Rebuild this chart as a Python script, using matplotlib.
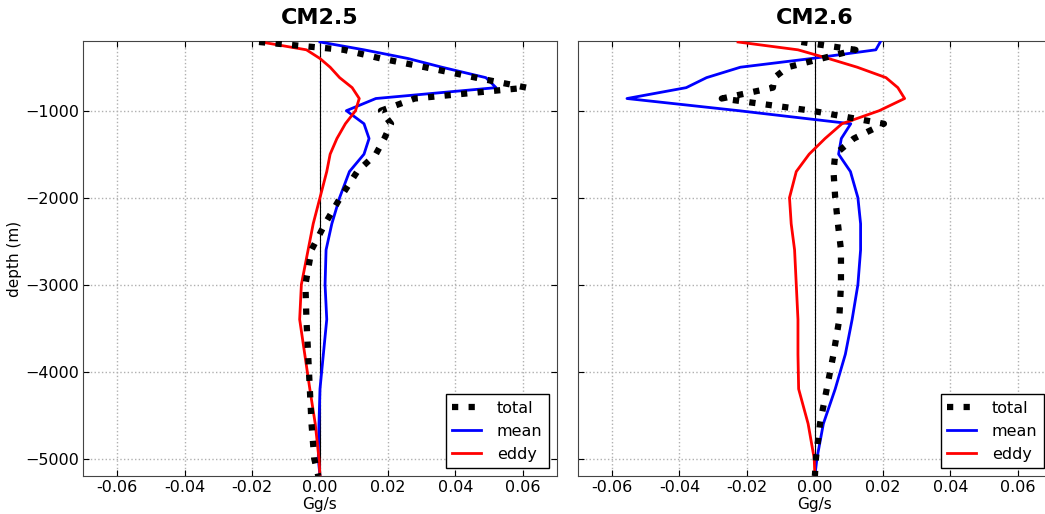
import numpy as np
import matplotlib
matplotlib.use('Agg')
from matplotlib import pyplot as plt

# depth levels (m), shared by every profile
depth = [-210, -300, -400, -500, -620, -735, -860, -1000, -1150, -1320, -1500,
         -1700, -2000, -2300, -2600, -3000, -3400, -3800, -4200, -4600, -5000, -5200]

# CM2.5 transports (Gg/s)
cm25_total = [-0.018, 0.007, 0.018, 0.031, 0.046, 0.061, 0.028, 0.018, 0.021, 0.019, 0.0165,
              0.011, 0.006, 0.0015, -0.0025, -0.0043, -0.004, -0.0035, -0.003, -0.0025, -0.0017, -0.0005]
cm25_mean = [0.0, 0.013, 0.026, 0.036, 0.049, 0.052, 0.0165, 0.0078, 0.013, 0.0145, 0.013,
             0.0087, 0.0058, 0.0035, 0.0018, 0.0015, 0.002, 0.001, 0.0, -0.0003, -0.0005, 0.0]
cm25_eddy = [-0.0174, -0.004, 0.0, 0.003, 0.0058, 0.0095, 0.0116, 0.0105, 0.0075, 0.005, 0.003,
             0.002, 0.0, -0.002, -0.0035, -0.0055, -0.006, -0.0045, -0.003, -0.0014, -0.0003, 0.0]

# CM2.6 transports (Gg/s)
cm26_total = [-0.004, 0.012, 0.002, -0.008, -0.012, -0.0124, -0.0275, -0.001, 0.0204, 0.0115, 0.006,
              0.0055, 0.006, 0.0068, 0.0077, 0.0077, 0.0072, 0.0055, 0.0035, 0.0015, 0.0003, 0.0]
cm26_mean = [0.0193, 0.018, -0.001, -0.022, -0.032, -0.038, -0.0555, -0.0225, 0.0106, 0.0078, 0.007,
             0.0105, 0.0127, 0.0135, 0.0135, 0.0127, 0.011, 0.009, 0.006, 0.0025, 0.0006, 0.0]
cm26_eddy = [-0.0227, -0.005, 0.004, 0.0125, 0.021, 0.0245, 0.0265, 0.019, 0.008, 0.003, -0.0017,
             -0.0055, -0.0075, -0.007, -0.006, -0.0055, -0.005, -0.005, -0.0048, -0.002, -0.0002, 0.0]

titles = ['CM2.5', 'CM2.6']
xticks = [-0.06, -0.04, -0.02, 0.0, 0.02, 0.04, 0.06]
yticks = [-5000, -4000, -3000, -2000, -1000]

fig = plt.figure(figsize=(10.45, 5.14), dpi=100)
ax1 = fig.add_axes([0.0794, 0.074, 0.4536, 0.846])
ax2 = fig.add_axes([0.553, 0.074, 0.4536, 0.846])

panels = [(ax1, cm25_total, cm25_mean, cm25_eddy),
          (ax2, cm26_total, cm26_mean, cm26_eddy)]

for i, (ax, tot, mn, ed) in enumerate(panels):
    ax.set_axisbelow(True)
    ax.axvline(0, color='black', lw=0.8, zorder=2)
    ax.plot(tot, depth, color='black', ls=':', lw=4.5, label='total', zorder=4)
    ax.plot(mn, depth, color='blue', lw=2, label='mean', zorder=3)
    ax.plot(ed, depth, color='red', lw=2, label='eddy', zorder=3)
    ax.set_xlim(-0.07, 0.07)
    ax.set_ylim(-5200, -200)
    ax.set_xticks(xticks)
    ax.set_xticklabels(['%.2f' % v if v != 0 else '0.00' for v in xticks])
    ax.set_yticks(yticks)
    ax.grid(True, color='#b0b0b0', ls=':', lw=1)
    ax.tick_params(direction='in', top=True, right=True, labelsize=11.5, length=4, pad=3)
    for s in ax.spines.values():
        s.set_color('#444444')
    ax.set_title(titles[i], fontsize=16, fontweight='bold', pad=12)
    ax.set_xlabel('Gg/s', fontsize=11, labelpad=1)
    leg = ax.legend(loc='lower right', fontsize=11.5, fancybox=False, framealpha=1,
                    handlelength=1.8, handletextpad=1.0, borderaxespad=0.5)
    leg.get_frame().set_edgecolor('black')

ax1.set_ylabel('depth (m)', fontsize=11, labelpad=2)
ax2.set_yticklabels([])

fig.savefig('out.png', dpi=100)
